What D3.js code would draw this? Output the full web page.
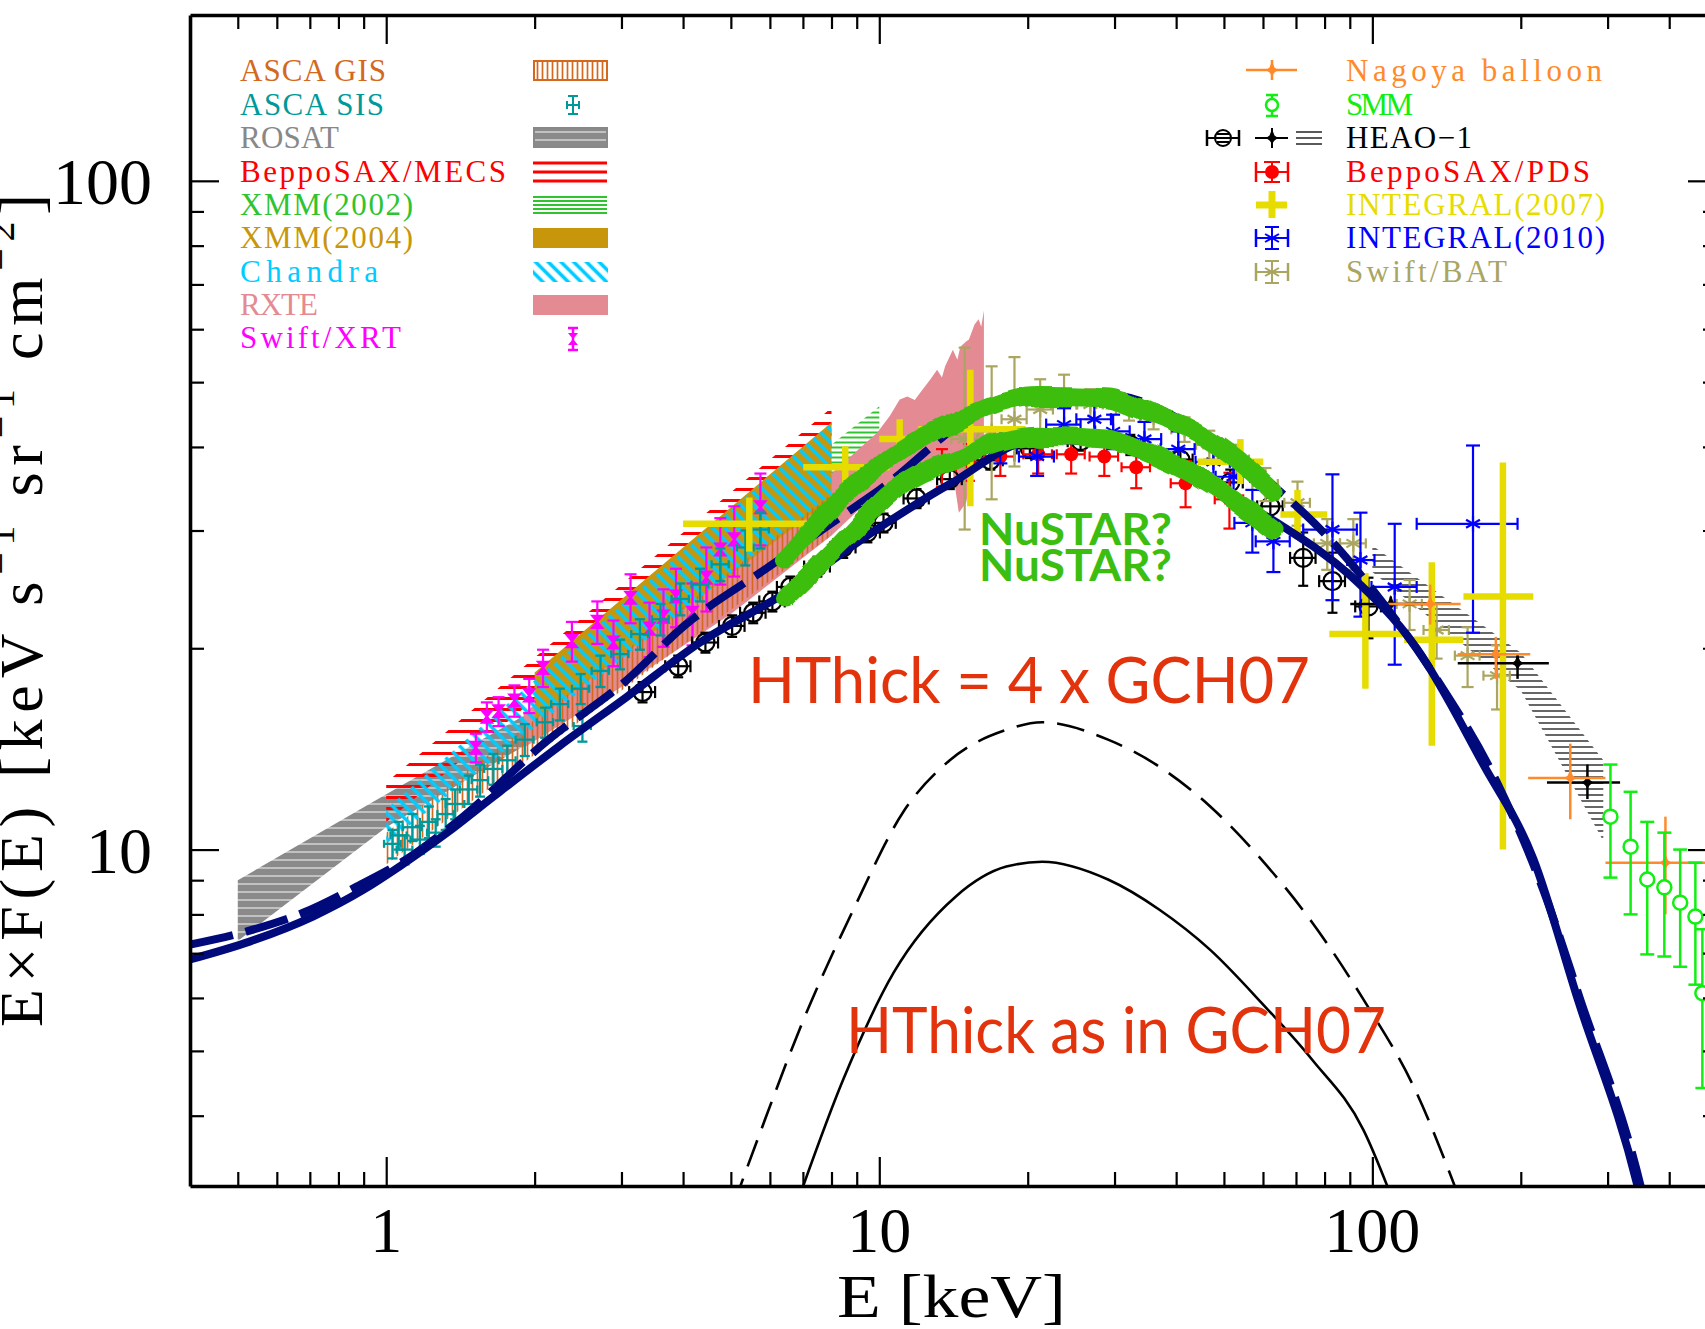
<!DOCTYPE html>
<html><head><meta charset="utf-8">
<script src="https://cdn.jsdelivr.net/npm/d3@7"></script>
<style>body{margin:0;background:#fff;} svg{display:block}</style>
</head><body>
<svg id="chart" width="1705" height="1329"></svg>
<script>
// ---------------- DATA ----------------
const xMajorTicks=[1,10,100];
const xMinorTicks=[0.5,0.6,0.7,0.8,0.9,2,3,4,5,6,7,8,9,20,30,40,50,60,70,80,90,200,300,400];
const yMajorTicks=[10,100];
const yMinorTicks=[4,5,6,7,8,9,20,30,40,50,60,70,80,90];
const xTickLabels=["1","10","100"];
const yTickLabels=["10","100"];

// model curves
const modelSolidE=[0.40,0.53,0.71,0.90,1.07,1.33,1.65,2.25,3.07,4.33,6.39,10.0,13.9,20.9,28.8,44.2,65.9,90.2,123,168,212,261,345,358];
const modelSolidF=[6.85,7.29,7.94,8.71,9.46,10.6,12.0,14.3,16.9,20.4,24.1,30.3,35.2,41.0,40.6,35.7,30.4,25.7,20.0,13.4,9.69,5.97,3.14,2.80];
const modelDashE=[0.40,0.52,0.68,0.873,1.12,1.39,2.11,3.07,4.02,5.98,10.0,17.6,28.8,44.2,65.9,81.0,99.1,135,179,222,264,350,363];
const modelDashF=[7.21,7.54,8.05,8.81,9.76,11.0,14.5,17.9,21.6,26.5,34.5,46.3,47.9,42.5,34.0,29.4,24.7,18.0,12.6,8.71,5.97,3.14,2.80];
const hthickDashE=[5.06,5.76,6.98,8.86,11.2,13.9,18.1,21.4,29.1,37.0,46.9,59.6,75.5,95.9,122,152];
const hthickDashF=[2.94,3.81,5.51,8.13,11.4,13.6,15.1,15.5,14.6,13.3,11.6,9.66,7.78,5.97,4.38,2.94];
const hthickSolidE=[6.79,8.45,10.7,14.3,18.1,21.4,29.1,37.0,46.9,59.6,75.5,95.9,111];
const hthickSolidF=[2.94,4.53,6.55,8.51,9.43,9.59,9.02,8.13,7.08,5.90,4.85,3.81,2.94];

// NuSTAR? sketches
const nuE=[6.42,8.33,10.6,14.6,20.9,28.8,35.5,44.2,54.0,63.2];
const nuHiF=[27.1,33.4,38.7,44.0,47.6,47.4,45.0,42.0,38.0,34.2];
const nuLoF=[23.7,28.6,34.2,38.6,41.5,41.1,39.0,36.1,32.8,30.1];

// bands
const rosatE=[0.5,1.0,2.0], rosatLo=[7.3,10.8,14.6], rosatHi=[9.0,12.1,16.2];
const mecsE=[1.0,8.0], mecsLo=[11.0,39.0], mecsHi=[12.6,45.8];
const xmm02E=[2.0,10.0], xmm02Lo=[15.5,41.0], xmm02Hi=[17.7,46.0];
const xmm04E=[2.0,8.0], xmm04Lo=[15.6,33.4], xmm04Hi=[18.4,43.5];
const gisE=[1.0,8.0], gisLo=[9.5,29.5], gisHi=[10.6,34.0];
const chandraE=[1.0,8.0], chandraLo=[10.2,34.0], chandraHi=[11.5,43.5];
const rxteUpE=[1.9,3.0,5.0,8.0,9.9,10.5,11.0,11.4,11.8,12.2,12.7,13.1,13.4,13.6,14.1,14.4,14.6,15.0,15.2,15.6,15.9,16.1,16.3];
const rxteUpF=[16.0,20.5,27.0,36.5,42.0,44.5,47.1,47.6,47.0,48.6,50.5,52.2,50.8,52.8,55.9,54.0,56.5,57.5,57.9,61.0,62.1,60.5,64.0];
const rxteLoE=[16.3,15.6,15.0,14.5,14.0,13.0,12.0,11.0,9.0,8.0,5.0,3.0,1.9];
const rxteLoF=[40.0,38.0,33.0,31.9,38.0,38.5,37.5,36.0,32.0,29.5,22.5,17.5,14.2];
const heaoBandE=[100,200,294], heaoBandLo=[26.0,17.3,10.3], heaoBandHi=[28.5,19.7,13.6];

// ASCA SIS
const sisE=[1.03,1.06,1.09,1.13,1.17,1.22,1.26,1.32,1.38,1.47,1.55,1.65,1.76,1.91,2.10,2.25,2.48,2.50,2.72,2.98,3.27,3.60,3.95,4.33,4.76,5.35,5.74];
const sisF=[10.2,10.5,10.0,10.8,10.35,11.0,10.6,11.3,11.7,12.3,12.7,13.2,13.6,14.6,15.5,16.5,17.4,15.3,18.5,19.6,21.0,22.1,23.7,24.9,26.7,28.3,30.1];
const sisDF=[0.5,0.5,0.5,0.5,0.5,0.6,0.5,0.6,0.6,0.6,0.7,0.7,0.7,0.8,0.8,0.9,0.9,0.8,1.0,1.0,1.1,1.2,1.3,1.4,1.5,1.7,1.9];
const sisDE=[0.04,0.04,0.04,0.05,0.05,0.05,0.05,0.05,0.06,0.06,0.06,0.07,0.07,0.08,0.08,0.09,0.1,0.1,0.11,0.12,0.13,0.14,0.16,0.17,0.19,0.21,0.23];
// Swift/XRT
const xrtE=[1.52,1.60,1.69,1.82,1.95,2.08,2.38,2.68,2.89,3.13,3.42,3.65,3.87,4.18,4.46,4.76,5.08,5.74];
const xrtF=[14.2,15.8,16.1,16.7,17.0,18.7,20.5,21.9,20.4,23.8,21.4,22.3,23.9,22.6,25.5,28.1,29.1,32.5];
const xrtDF=[0.7,0.8,0.8,0.9,1.0,1.2,1.4,1.6,1.6,2.0,2.0,2.2,2.4,2.4,2.8,3.2,3.5,4.0];
// HEAO-1 (circles)
const heaoE=[3.31,3.91,4.44,5.03,5.55,6.07,6.60,7.49,8.45,9.46,10.2,11.9,13.9,16.8,20.2,25.6,32.3,40.8,51.5,62.1,72.4,83.0,98.2];
const heaoF=[17.2,18.8,20.4,21.6,22.6,23.5,24.7,26.5,28.3,29.8,30.8,33.5,35.8,38.2,39.8,40.8,40.3,38.3,35.4,32.6,27.3,25.2,23.1];
const heaoDF=[0.6,0.7,0.7,0.8,0.8,0.8,0.9,0.9,1.0,1.0,1.0,1.1,1.2,1.2,1.3,1.3,1.4,1.5,1.6,1.8,2.5,2.6,2.4];
const heaoDE=[0.2,0.23,0.27,0.3,0.33,0.36,0.4,0.45,0.5,0.57,0.6,0.7,0.8,1.0,1.2,1.5,1.9,2.4,3.1,3.7,4.3,5.0,5.9];
// HEAO-1 (stars)
const hstE=[109,197,273], hstElo=[90.2,149,226], hstEhi=[131,228,318];
const hstF=[23.3,19.0,12.6], hstFlo=[22.6,18.0,11.9], hstFhi=[23.9,19.6,13.4];
// BeppoSAX/PDS
const pdsE=[13.4,15.2,17.6,21.0,24.5,28.6,33.2,41.8,51.3];
const pdsF=[37.3,38.0,38.7,39.0,39.0,38.7,37.3,35.3,33.4];
const pdsDF=[2.4,2.4,2.5,2.5,2.5,2.5,2.6,2.8,3.2];
const pdsDE=[0.9,1.0,1.2,1.4,1.6,1.9,2.2,2.8,3.4];
// INTEGRAL (2010)
const i10E=[17.6,20.9,23.7,27.3,29.8,34.5,40.4,47.6,52.3,57.1,63.0,83.0,94.6,111,160];
const i10F=[40.3,38.7,43.2,44.0,42.2,41.1,39.7,38.0,36.1,30.8,28.9,30.1,27.1,24.7,30.7];
const i10Flo=[37.8,36.2,40.7,41.5,39.7,38.6,37.2,35.5,33.6,27.8,26.0,23.6,22.3,18.9,21.1];
const i10Fhi=[42.8,41.2,45.7,46.5,44.7,43.6,42.2,40.5,38.6,34.5,30.8,36.4,31.9,30.7,40.2];
const i10Elo=[16.2,19.2,21.8,25.1,27.4,31.7,37.2,43.8,48.1,52.5,58.0,72.4,88.9,99.6,123];
const i10Ehi=[19.0,22.6,25.6,29.5,32.2,37.3,43.6,51.4,56.5,61.7,68.0,93.0,101,123,197];
// Swift/BAT
const batE=[14.9,16.9,18.8,21.2,23.7,26.8,32.1,36.0,41.6,46.7,53.0,60.7,70.5,81.0,91.5,119,135,156,179];
const batF=[41.1,42.2,44.0,45.5,46.3,46.3,45.5,44.3,42.5,40.3,38.3,35.2,33.0,28.7,28.7,23.3,21.3,19.5,18.2];
const batFlo=[30.1,33.4,37.4,40.3,42.5,44.0,43.8,42.5,40.7,38.3,36.3,33.2,30.5,26.2,26.2,21.3,19.3,17.5,16.2];
const batFhi=[56.3,52.8,54.5,50.5,51.3,48.8,47.5,46.1,44.3,42.3,40.3,37.2,35.5,31.2,31.2,25.3,23.3,21.5,20.2];
const batDE=[0.9,1.0,1.1,1.3,1.4,1.6,1.9,2.2,2.5,2.8,3.2,3.6,4.2,4.9,5.5,7,8,9,11];
// INTEGRAL (2007)
const i07E=[5.45,8.53,11.0,15.3,54.0,70.5,96.8,132,184];
const i07Elo=[4.00,7.01,10.0,12.0,44.2,65.1,81.8,116,153];
const i07Ehi=[7.35,10.5,12.4,19.8,60.1,81.0,116,153,212];
const i07F=[30.7,37.3,41.1,42.5,38.0,31.7,21.0,20.6,23.9];
const i07Flo=[27.9,34.2,39.0,32.6,35.2,29.1,17.4,14.3,10.0];
const i07Fhi=[33.6,40.1,44.0,52.2,41.1,34.5,25.9,26.9,37.9];
// Nagoya balloon
const ngE=[131,178,252,393], ngElo=[104,149,207,297], ngEhi=[151,209,297,508];
const ngF=[23.3,19.6,12.8,9.56], ngFlo=[21.7,18.0,11.1,8.0], ngFhi=[24.9,20.8,14.4,11.2];
// SMM
const smmE=[304,334,361,391,421,452,467];
const smmF=[11.2,10.1,9.02,8.78,8.33,7.94,6.1];
const smmFlo=[9.08,8.0,6.97,6.92,6.68,6.28,4.4];
const smmFhi=[13.4,12.2,11.0,10.6,10.0,9.56,7.6];

const legendLeft=["ASCA GIS","ASCA SIS","ROSAT","BeppoSAX/MECS","XMM(2002)","XMM(2004)","Chandra","RXTE","Swift/XRT"];
const legendLeftColors=["#d2691e","#00999a","#888888","#ff0000","#2fc42f","#c8960a","#00ccff","#e48a92","#ff00ff"];
const legendRight=["Nagoya balloon","SMM","HEAO\u22121","BeppoSAX/PDS","INTEGRAL(2007)","INTEGRAL(2010)","Swift/BAT"];
const legendRightColors=["#ff8a2a","#11ee11","#000000","#ff0000","#e6dc00","#0000ff","#aaa55f"];

// ---------------- CHART ----------------
const svg=d3.select('#chart');
const x=d3.scaleLog().domain([0.4,500]).range([190,1717]);
const y=d3.scaleLog().domain([3.14,177]).range([1186,15]);
const NAVY="#000a7a";

const defs=svg.append('defs');
defs.append('clipPath').attr('id','clip').append('rect').attr('x',190).attr('y',15).attr('width',1527).attr('height',1171);
function pat(id,w,h,tr){const p=defs.append('pattern').attr('id',id).attr('patternUnits','userSpaceOnUse').attr('width',w).attr('height',h);if(tr)p.attr('patternTransform',tr);return p;}
let p;
p=pat('gisPat',5,10);p.append('line').attr('x1',2.5).attr('x2',2.5).attr('y1',0).attr('y2',10).attr('stroke','#d2691e').attr('stroke-width',1.7);
p=pat('rosatPat',10,8);p.append('rect').attr('width',10).attr('height',8).attr('fill','#8a8a8a');p.append('line').attr('x1',0).attr('x2',10).attr('y1',4).attr('y2',4).attr('stroke','#e6e6e6').attr('stroke-width',1.2);
p=pat('mecsPat',10,11);p.append('line').attr('x1',0).attr('x2',10).attr('y1',5.5).attr('y2',5.5).attr('stroke','#ff0000').attr('stroke-width',3);
p=pat('xmm02Pat',10,5);p.append('line').attr('x1',0).attr('x2',10).attr('y1',2.5).attr('y2',2.5).attr('stroke','#2fc42f').attr('stroke-width',2);
p=pat('chandraPat',9,10,'rotate(-45)');p.append('line').attr('x1',4.5).attr('x2',4.5).attr('y1',0).attr('y2',10).attr('stroke','#00ccff').attr('stroke-width',3.6);
p=pat('heaoPat',10,6);p.append('line').attr('x1',0).attr('x2',10).attr('y1',3).attr('y2',3).attr('stroke','#000').attr('stroke-width',1.2);
const wob=defs.append('filter').attr('id','wobble').attr('x','-5%').attr('y','-20%').attr('width','110%').attr('height','140%');
wob.append('feTurbulence').attr('type','fractalNoise').attr('baseFrequency',0.035).attr('numOctaves',1).attr('seed',3).attr('result','n');
wob.append('feDisplacementMap').attr('in','SourceGraphic').attr('in2','n').attr('scale',10).attr('xChannelSelector','R').attr('yChannelSelector','G');

const plot=svg.append('g').attr('clip-path','url(#clip)');

function band(E,lo,hi,fill){
  const d=E.map((e,i)=>({e,lo:lo[i],hi:hi[i]}));
  plot.append('path').datum(d).attr('d',d3.area().x(v=>x(v.e)).y0(v=>y(v.lo)).y1(v=>y(v.hi))).attr('fill',fill);
}
band(rosatE,rosatLo,rosatHi,'url(#rosatPat)');
band(mecsE,mecsLo,mecsHi,'url(#mecsPat)');
band(xmm02E,xmm02Lo,xmm02Hi,'url(#xmm02Pat)');
{
  const pts=rxteUpE.map((e,i)=>[e,rxteUpF[i]]).concat(rxteLoE.map((e,i)=>[e,rxteLoF[i]]));
  plot.append('path').attr('d',d3.line().x(v=>x(v[0])).y(v=>y(v[1]))(pts)+'Z').attr('fill','#e48a92');
}
band(xmm04E,xmm04Lo,xmm04Hi,'#c8960a');
band(gisE,gisLo,gisHi,'url(#gisPat)');
band(chandraE,chandraLo,chandraHi,'url(#chandraPat)');
band(heaoBandE,heaoBandLo,heaoBandHi,'url(#heaoPat)');

// error-bar helper
function errs(E,F,o){
  const g=plot.append('g').attr('stroke',o.color).attr('stroke-width',o.w||2).attr('fill','none');
  E.forEach((e,i)=>{
    const cx=x(e),cy=y(F[i]);
    const flo=o.flo?o.flo[i]:(o.df?F[i]-o.df[i]:null), fhi=o.fhi?o.fhi[i]:(o.df?F[i]+o.df[i]:null);
    const elo=o.elo?o.elo[i]:(o.de?e-o.de[i]:null), ehi=o.ehi?o.ehi[i]:(o.de?e+o.de[i]:null);
    if(flo!=null){
      g.append('line').attr('x1',cx).attr('x2',cx).attr('y1',y(flo)).attr('y2',y(fhi));
      if(o.cap){[flo,fhi].forEach(v=>g.append('line').attr('x1',cx-o.cap).attr('x2',cx+o.cap).attr('y1',y(v)).attr('y2',y(v)));}
    }
    if(elo!=null){
      g.append('line').attr('x1',x(elo)).attr('x2',x(ehi)).attr('y1',cy).attr('y2',cy);
      if(o.hcap){[elo,ehi].forEach(v=>g.append('line').attr('x1',x(v)).attr('x2',x(v)).attr('y1',cy-o.hcap).attr('y2',cy+o.hcap));}
    }
    if(o.marker)o.marker(g,cx,cy);
  });
}
function asterisk(color,r){return (g,cx,cy)=>{[[0,1],[0.866,0.5],[0.866,-0.5]].forEach(([a,b])=>g.append('line').attr('x1',cx-a*r).attr('x2',cx+a*r).attr('y1',cy-b*r).attr('y2',cy+b*r).attr('stroke',color));};}

// Swift/XRT
errs(xrtE,xrtF,{color:'#ff00ff',df:xrtDF,cap:6,w:2.2,marker:(g,cx,cy)=>g.append('path').attr('d',`M${cx-5},${cy-6}L${cx+5},${cy-6}L${cx-5},${cy+6}L${cx+5},${cy+6}Z`).attr('fill','#ff00ff')});
// ASCA SIS
errs(sisE,sisF,{color:'#00999a',df:sisDF,de:sisDE,cap:5,hcap:4,w:2.3});
// HEAO circles
errs(heaoE,heaoF,{color:'#000',df:heaoDF,de:heaoDE,cap:5,hcap:6,w:2.2,marker:(g,cx,cy)=>g.append('circle').attr('cx',cx).attr('cy',cy).attr('r',9).attr('stroke','#000').attr('stroke-width',2.3)});
// PDS
errs(pdsE,pdsF,{color:'#ff0000',df:pdsDF,de:pdsDE,cap:6,hcap:5,w:2.2,marker:(g,cx,cy)=>g.append('circle').attr('cx',cx).attr('cy',cy).attr('r',7).attr('fill','#ff0000').attr('stroke','none')});
// Swift/BAT
errs(batE,batF,{color:'#aaa55f',flo:batFlo,fhi:batFhi,de:batDE,cap:6,hcap:5,w:2.2,marker:asterisk('#aaa55f',8)});
// INTEGRAL 2010
errs(i10E,i10F,{color:'#0000ff',flo:i10Flo,fhi:i10Fhi,elo:i10Elo,ehi:i10Ehi,cap:7,hcap:6,w:2.2,marker:asterisk('#0000ff',8)});
// INTEGRAL 2007
errs(i07E,i07F,{color:'#e6dc00',flo:i07Flo,fhi:i07Fhi,elo:i07Elo,ehi:i07Ehi,w:6.5});
// HEAO stars
const star=(col)=>(g,cx,cy)=>g.append('path').attr('d',`M${cx},${cy-9}L${cx+2.5},${cy-2.5}L${cx+6},${cy}L${cx+2.5},${cy+2.5}L${cx},${cy+6}L${cx-2.5},${cy+2.5}L${cx-6},${cy}L${cx-2.5},${cy-2.5}Z`).attr('fill',col).attr('stroke','none');
errs(hstE,hstF,{color:'#000',flo:hstFlo,fhi:hstFhi,elo:hstElo,ehi:hstEhi,w:2.5,marker:star('#000')});
// Nagoya
errs(ngE,ngF,{color:'#ff8a2a',flo:ngFlo,fhi:ngFhi,elo:ngElo,ehi:ngEhi,w:2.5,marker:star('#ff8a2a')});
// SMM
errs(smmE,smmF,{color:'#11ee11',flo:smmFlo,fhi:smmFhi,cap:7,w:2.5,marker:(g,cx,cy)=>g.append('circle').attr('cx',cx).attr('cy',cy).attr('r',7).attr('fill','#fff').attr('stroke','#11ee11').attr('stroke-width',2.5)});

// model curves
const line=d3.line().curve(d3.curveMonotoneX).x(d=>x(d[0])).y(d=>y(d[1]));
const zipE=(E,F)=>E.map((e,i)=>[e,F[i]]);
plot.append('path').attr('d',line(zipE(hthickDashE,hthickDashF))).attr('fill','none').attr('stroke','#000').attr('stroke-width',2.6).attr('stroke-dasharray','28,13');
plot.append('path').attr('d',line(zipE(hthickSolidE,hthickSolidF))).attr('fill','none').attr('stroke','#000').attr('stroke-width',2.6);
plot.append('path').attr('d',line(zipE(modelSolidE,modelSolidF))).attr('fill','none').attr('stroke',NAVY).attr('stroke-width',8);
plot.append('path').attr('d',line(zipE(modelDashE,modelDashF))).attr('fill','none').attr('stroke',NAVY).attr('stroke-width',8).attr('stroke-dasharray','44,13');

// NuSTAR? sketches
const nug=plot.append('g').attr('filter','url(#wobble)');
[nuHiF,nuLoF].forEach(F=>nug.append('path').attr('d',line(zipE(nuE,F))).attr('fill','none').attr('stroke','#3cbe10').attr('stroke-width',19).attr('stroke-linecap','round').attr('stroke-linejoin','round'));

// ---------------- AXES ----------------
function ax(gen,tr,vals,size,keepDomain){
  const g=svg.append('g').attr('transform',tr).call(gen.tickValues(vals).tickSize(size).tickSizeOuter(0).tickFormat(()=>''));
  g.selectAll('.tick line').attr('stroke','#000').attr('stroke-width',2.2);
  if(keepDomain)g.select('.domain').attr('stroke','#000').attr('stroke-width',3.6);else g.select('.domain').remove();
}
ax(d3.axisBottom(x),'translate(0,1186)',xMajorTicks,-29,true);
ax(d3.axisBottom(x),'translate(0,1186)',xMinorTicks,-14,false);
ax(d3.axisTop(x),'translate(0,15)',xMajorTicks,-29,true);
ax(d3.axisTop(x),'translate(0,15)',xMinorTicks,-14,false);
ax(d3.axisLeft(y),'translate(190,0)',yMajorTicks,-29,true);
ax(d3.axisLeft(y),'translate(190,0)',yMinorTicks,-14,false);
ax(d3.axisRight(y),'translate(1717,0)',yMajorTicks,-29,true);
ax(d3.axisRight(y),'translate(1717,0)',yMinorTicks,-14,false);

const serif="'Liberation Serif','DejaVu Serif',serif";
xMajorTicks.forEach((v,i)=>svg.append('text').attr('x',x(v)).attr('y',1252).attr('text-anchor','middle').attr('font-family',serif).attr('font-size',64).text(xTickLabels[i]));
yMajorTicks.forEach((v,i)=>svg.append('text').attr('x',152).attr('y',y(v)+23).attr('text-anchor','end').attr('font-family',serif).attr('font-size',66).text(yTickLabels[i]));
svg.append('text').attr('x',837).attr('y',1317).attr('font-family',serif).attr('font-size',62).attr('textLength',229).attr('lengthAdjust','spacingAndGlyphs').text('E [keV]');
{
  const t=svg.append('text').attr('transform','translate(42,1027) rotate(-90)').attr('font-family',serif).attr('font-size',62).attr('textLength',833).attr('lengthAdjust','spacing');
  t.append('tspan').text('E\u00d7F(E) [keV s');
  t.append('tspan').attr('dy',-28).attr('font-size',40).text('\u22121');
  t.append('tspan').attr('dy',28).text(' sr');
  t.append('tspan').attr('dy',-28).attr('font-size',40).text('\u22121');
  t.append('tspan').attr('dy',28).text(' cm');
  t.append('tspan').attr('dy',-28).attr('font-size',40).text('\u22122');
  t.append('tspan').attr('dy',28).text(']');
}

// annotations
const sans="Lato,'Open Sans','DejaVu Sans',sans-serif";
svg.append('text').attr('x',979).attr('y',545).attr('font-family',sans).attr('font-weight','bold').attr('font-size',44).attr('fill','#3cbe10').attr('textLength',193).attr('lengthAdjust','spacingAndGlyphs').text('NuSTAR?');
svg.append('text').attr('x',979).attr('y',581).attr('font-family',sans).attr('font-weight','bold').attr('font-size',44).attr('fill','#3cbe10').attr('textLength',193).attr('lengthAdjust','spacingAndGlyphs').text('NuSTAR?');
svg.append('text').attr('x',748).attr('y',703).attr('font-family',sans).attr('font-size',63).attr('fill','#e2330d').attr('textLength',562).attr('lengthAdjust','spacingAndGlyphs').text('HThick = 4 x GCH07');
svg.append('text').attr('x',846).attr('y',1053).attr('font-family',sans).attr('font-size',63).attr('fill','#e2330d').attr('textLength',540).attr('lengthAdjust','spacingAndGlyphs').text('HThick as in GCH07');

// ---------------- LEGENDS ----------------
const rowY=[81,115,148,182,215,248,282,315,348];
const leftW=[146,144,99,266,173,173,138,78,161];
const rightW=[256,67,126,244,259,259,161];
legendLeft.forEach((s,i)=>svg.append('text').attr('x',240).attr('y',rowY[i]).attr('font-family',serif).attr('font-size',31).attr('fill',legendLeftColors[i]).attr('textLength',leftW[i]).attr('lengthAdjust','spacing').text(s));
legendRight.forEach((s,i)=>svg.append('text').attr('x',1346).attr('y',rowY[i]).attr('font-family',serif).attr('font-size',31).attr('fill',legendRightColors[i]).attr('textLength',rightW[i]).attr('lengthAdjust','spacing').text(s));
const L=svg.append('g');
function ln(g,x1,y1,x2,y2,c,w){g.append('line').attr('x1',x1).attr('y1',y1).attr('x2',x2).attr('y2',y2).attr('stroke',c).attr('stroke-width',w);}
L.append('rect').attr('x',534).attr('y',61).attr('width',73).attr('height',19).attr('fill','url(#gisPat)').attr('stroke','#d2691e').attr('stroke-width',2);
ln(L,573,96,573,114,'#00999a',2);ln(L,568,96,578,96,'#00999a',2);ln(L,568,114,578,114,'#00999a',2);ln(L,567,105,579,105,'#00999a',2);ln(L,567,101,567,109,'#00999a',2);ln(L,579,101,579,109,'#00999a',2);
L.append('rect').attr('x',534).attr('y',128).attr('width',73).attr('height',19).attr('fill','url(#rosatPat)').attr('stroke','#888').attr('stroke-width',2);
[163,172,181].forEach(v=>ln(L,533,v,607,v,'#ff0000',3));
[197,201,205,209,213].forEach(v=>ln(L,533,v,607,v,'#2fc42f',2));
L.append('rect').attr('x',533).attr('y',228).attr('width',75).attr('height',20).attr('fill','#c8960a');
L.append('rect').attr('x',533).attr('y',262).attr('width',75).attr('height',20).attr('fill','url(#chandraPat)');
L.append('rect').attr('x',533).attr('y',295).attr('width',75).attr('height',20).attr('fill','#e48a92');
ln(L,573,328,573,350,'#ff00ff',2.5);ln(L,568,328,578,328,'#ff00ff',2.5);ln(L,568,350,578,350,'#ff00ff',2.5);
L.append('path').attr('d','M568,333L578,333L568,345L578,345Z').attr('fill','#ff00ff');
// right legend symbols
ln(L,1246,70,1297,70,'#ff8a2a',2.5);ln(L,1272,60,1272,80,'#ff8a2a',2.5);star('#ff8a2a')(L,1272,70);
ln(L,1272,95,1272,116,'#11ee11',2.5);ln(L,1266,95,1278,95,'#11ee11',2.5);ln(L,1266,116,1278,116,'#11ee11',2.5);
L.append('circle').attr('cx',1272).attr('cy',105).attr('r',6).attr('fill','#fff').attr('stroke','#11ee11').attr('stroke-width',2.5);
L.append('circle').attr('cx',1223).attr('cy',138).attr('r',8).attr('fill','none').attr('stroke','#000').attr('stroke-width',2);
ln(L,1207,138,1239,138,'#000',2);ln(L,1207,130,1207,146,'#000',2.5);ln(L,1239,130,1239,146,'#000',2.5);ln(L,1217,134,1229,134,'#000',2);ln(L,1217,142,1229,142,'#000',2);
ln(L,1255,138,1288,138,'#000',2);ln(L,1272,128,1272,148,'#000',2);star('#000')(L,1272,138);
[132,138,144].forEach(v=>ln(L,1296,v,1322,v,'#000',1.3));
ln(L,1256,172,1288,172,'#ff0000',2);ln(L,1256,162,1256,182,'#ff0000',2.5);ln(L,1288,162,1288,182,'#ff0000',2.5);ln(L,1264,162,1280,162,'#ff0000',2);ln(L,1264,182,1280,182,'#ff0000',2);ln(L,1272,162,1272,182,'#ff0000',2);
L.append('circle').attr('cx',1272).attr('cy',172).attr('r',7).attr('fill','#ff0000');
ln(L,1256,205,1287,205,'#e6dc00',7);ln(L,1272,191,1272,218,'#e6dc00',7);
[[238,'#0000ff'],[272,'#aaa55f']].forEach(([cy,c])=>{ln(L,1256,cy,1288,cy,c,2);ln(L,1256,cy-9,1256,cy+9,c,2.5);ln(L,1288,cy-9,1288,cy+9,c,2.5);ln(L,1272,cy-11,1272,cy+11,c,2);ln(L,1265,cy-11,1279,cy-11,c,2);ln(L,1265,cy+11,1279,cy+11,c,2);const a=L.append('g').attr('stroke-width',2);asterisk(c,8)(a,1272,cy);});
</script></body></html>
